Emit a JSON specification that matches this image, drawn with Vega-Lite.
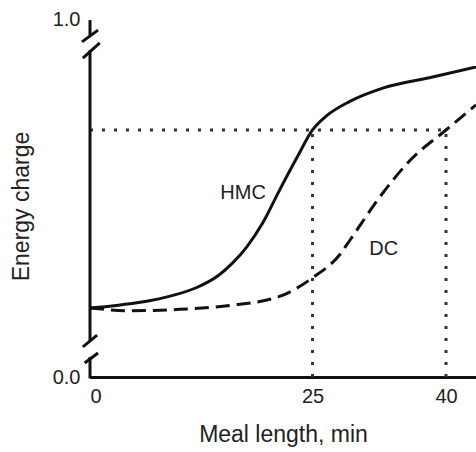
{
  "$schema": "https://vega.github.io/schema/vega-lite/v6.json",
  "width": 386,
  "height": 358,
  "autosize": {"type": "none"},
  "padding": {"left": 90, "right": 0, "top": 19, "bottom": 75},
  "background": "white",
  "config": {
    "view": {"stroke": null},
    "font": "Liberation Sans",
    "axis": {"grid": false, "labelFont": "Liberation Sans", "titleFont": "Liberation Sans", "labelColor": "#222", "titleColor": "#222", "titleFontWeight": "normal"}
  },
  "datasets": {
    "curves": [
      {"series": "HMC", "t": 0, "v": 0.193},
      {"series": "HMC", "t": 3, "v": 0.200},
      {"series": "HMC", "t": 6, "v": 0.210},
      {"series": "HMC", "t": 9, "v": 0.226},
      {"series": "HMC", "t": 12, "v": 0.250},
      {"series": "HMC", "t": 14.5, "v": 0.285},
      {"series": "HMC", "t": 16, "v": 0.318},
      {"series": "HMC", "t": 17.6, "v": 0.363},
      {"series": "HMC", "t": 19.4, "v": 0.430},
      {"series": "HMC", "t": 21.3, "v": 0.522},
      {"series": "HMC", "t": 23.3, "v": 0.615},
      {"series": "HMC", "t": 25.0, "v": 0.690},
      {"series": "HMC", "t": 26.6, "v": 0.730},
      {"series": "HMC", "t": 29.2, "v": 0.770},
      {"series": "HMC", "t": 32.9, "v": 0.807},
      {"series": "HMC", "t": 38.5, "v": 0.838},
      {"series": "HMC", "t": 43.37, "v": 0.866},
      {"series": "DC", "t": 0, "v": 0.193},
      {"series": "DC", "t": 4.5, "v": 0.185},
      {"series": "DC", "t": 10.1, "v": 0.189},
      {"series": "DC", "t": 15.7, "v": 0.200},
      {"series": "DC", "t": 21.3, "v": 0.225},
      {"series": "DC", "t": 25.0, "v": 0.277},
      {"series": "DC", "t": 28.1, "v": 0.343},
      {"series": "DC", "t": 29.2, "v": 0.382},
      {"series": "DC", "t": 32.9, "v": 0.514},
      {"series": "DC", "t": 36.0, "v": 0.606},
      {"series": "DC", "t": 40.0, "v": 0.690},
      {"series": "DC", "t": 43.37, "v": 0.760}
    ],
    "guides": [
      {"t": 0, "t2": 40, "v": 0.69, "v2": 0.69},
      {"t": 25, "t2": 25, "v": 0, "v2": 0.69},
      {"t": 40, "t2": 40, "v": 0, "v2": 0.69}
    ],
    "axisParts": [
      {"t": 0, "t2": 0, "v": 0.997, "v2": 0.953},
      {"t": -0.9, "t2": 0.9, "v": 0.936, "v2": 0.969},
      {"t": -0.8, "t2": 1.1, "v": 0.891, "v2": 0.933},
      {"t": 0, "t2": 0, "v": 0.913, "v2": 0.103},
      {"t": -0.8, "t2": 0.8, "v": 0.084, "v2": 0.117},
      {"t": -0.6, "t2": 0.9, "v": 0.039, "v2": 0.067},
      {"t": 0, "t2": 0, "v": 0.056, "v2": -0.004}
    ],
    "labels": [
      {"t": 17.2, "v": 0.514, "label": "HMC"},
      {"t": 33.0, "v": 0.358, "label": "DC"}
    ]
  },
  "layer": [
    {
      "data": {"name": "guides"},
      "mark": {"type": "rule", "stroke": "#333", "strokeWidth": 3, "strokeDash": [3, 9], "strokeCap": "butt", "clip": false},
      "encoding": {
        "x": {"field": "t", "type": "quantitative", "scale": {"domain": [0, 43.37], "nice": false, "zero": false},
          "axis": {"values": [0, 25, 40], "ticks": false, "domainColor": "#111", "domainWidth": 3, "labelFontSize": 20, "labelPadding": 9, "title": "Meal length, min", "titleFontSize": 23, "titlePadding": 17}},
        "x2": {"field": "t2"},
        "y": {"field": "v", "type": "quantitative", "scale": {"domain": [0, 1], "nice": false, "zero": false},
          "axis": {"values": [0, 1], "format": ".1f", "ticks": false, "domain": false, "labelFontSize": 20, "labelPadding": 10, "title": "Energy charge", "titleFontSize": 23, "titlePadding": 19, "titleY": 187}},
        "y2": {"field": "v2"}
      }
    },
    {
      "data": {"name": "axisParts"},
      "mark": {"type": "rule", "stroke": "#111", "strokeWidth": 3, "strokeCap": "butt", "clip": false},
      "encoding": {
        "x": {"field": "t", "type": "quantitative"},
        "x2": {"field": "t2"},
        "y": {"field": "v", "type": "quantitative"},
        "y2": {"field": "v2"}
      }
    },
    {
      "data": {"name": "curves"},
      "transform": [{"filter": "datum.series === 'HMC'"}],
      "mark": {"type": "line", "stroke": "#111", "strokeWidth": 3, "interpolate": "monotone", "clip": false},
      "encoding": {
        "x": {"field": "t", "type": "quantitative"},
        "y": {"field": "v", "type": "quantitative"}
      }
    },
    {
      "data": {"name": "curves"},
      "transform": [{"filter": "datum.series === 'DC'"}],
      "mark": {"type": "line", "stroke": "#111", "strokeWidth": 3, "strokeDash": [14, 7], "interpolate": "monotone", "clip": false},
      "encoding": {
        "x": {"field": "t", "type": "quantitative"},
        "y": {"field": "v", "type": "quantitative"}
      }
    },
    {
      "data": {"name": "labels"},
      "mark": {"type": "text", "fontSize": 20, "font": "Liberation Sans", "color": "#222", "align": "center", "baseline": "middle"},
      "encoding": {
        "x": {"field": "t", "type": "quantitative"},
        "y": {"field": "v", "type": "quantitative"},
        "text": {"field": "label", "type": "nominal"}
      }
    }
  ]
}
